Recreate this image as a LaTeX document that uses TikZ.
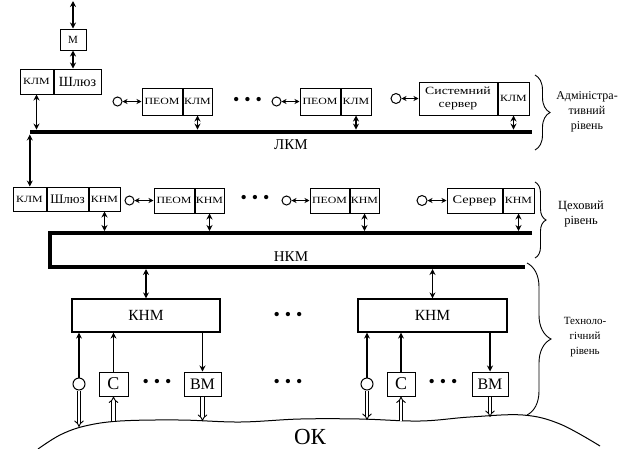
\documentclass[tikz,border=0pt]{standalone}
\usepackage{fontspec}
\setmainfont{Liberation Serif}
\newfontfamily\boxfont[FakeStretch=1.25]{Liberation Serif}
\usetikzlibrary{positioning,arrows.meta,decorations.pathreplacing}

\begin{document}
\begin{tikzpicture}[x=1pt, y=-1pt, cell/.style = {draw, line width=1pt, inner sep=0pt, minimum height=25pt, font=\boxfont\fontsize{9.5}{9.5}\selectfont}, bus/.style = {fill=black, inner sep=0pt, minimum height=4.5pt}, bi/.style = {line width=1.5pt, {Stealth[length=6pt,width=6pt]}-{Stealth[length=6pt,width=6pt]}}, bis/.style = {line width=1.3pt, {Stealth[length=5pt,width=5pt]}-{Stealth[length=5pt,width=5pt]}}, sig/.style = {line width=1.5pt, -{Stealth[length=6pt,width=6pt]}}, hollow/.style = {double, double distance=2.4pt, line width=0.9pt, -{Implies}}, op/.style = {draw, circle, line width=1pt, inner sep=0pt, minimum size=9pt}, dots/.style = {inner sep=0pt, font=\fontsize{18}{18}\selectfont}, lvl/.style = {align=center, font=\fontsize{12}{15}\selectfont}, brc/.style = {decorate, decoration={brace, amplitude=#1}, line width=0.9pt}]
\useasboundingbox (0,0) rectangle (628,448);
% administrative level
\node[cell, minimum width=26pt, minimum height=21pt, font=\fontsize{11}{11}\selectfont] (m) at (73,39.5) {М};
\coordinate (mtop) at (73,1);
\node[cell, minimum width=33pt] (klm1) at (36.5,81.5) {КЛМ};
\node[cell, minimum width=47pt, right=0pt of klm1, font=\fontsize{14}{14}\selectfont] (shl1) {Шлюз};
\draw[bi] (mtop) -- (m.north);
\draw[bi] (m.south) -- (m.south |- shl1.north);
\node[bus, minimum width=502pt] (lkm) at (281,132) {};
\node[font=\fontsize{15}{15}\selectfont] (lkmlab) at (291,145) {ЛКМ};
\draw[bi] (klm1.south) -- (klm1.south |- lkm.north);
\node[cell, minimum width=40pt, minimum height=27pt] (peom1) at (162,101.5) {ПЕОМ};
\node[cell, minimum width=29pt, minimum height=27pt, right=0pt of peom1] (klm2) {КЛМ};
\node[op, left=19pt of peom1] (op1) {};
\draw[bis] (op1) -- (peom1);
\draw[bi] (klm2.south) -- (klm2.south |- lkm.north);
\node[dots] (dots1) at (247.5,101) {\textbullet\hspace{5pt}\textbullet\hspace{5pt}\textbullet};
\node[cell, minimum width=40pt, minimum height=27pt] (peom2) at (320,101.5) {ПЕОМ};
\node[cell, minimum width=30pt, minimum height=27pt, right=0pt of peom2] (klm3) {КЛМ};
\node[op, left=18pt of peom2] (op2) {};
\draw[bis] (op2) -- (peom2);
\draw[bi] (klm3.south) -- (klm3.south |- lkm.north);
\node[cell, minimum width=78pt, minimum height=33pt, align=center, font=\boxfont\fontsize{11}{13}\selectfont] (srv1) at (458,98.5) {Системний\\сервер};
\node[cell, minimum width=31pt, minimum height=33pt, right=0pt of srv1] (klm4) {КЛМ};
\node[op, minimum size=10pt, left=17pt of srv1] (op3) {};
\draw[bis] (op3) -- (srv1);
\draw[bi] (klm4.south) -- (klm4.south |- lkm.north);
\draw[brc=15pt] (535,75) -- (535,150);
\node[lvl] (lvl1) at (587,112) {Адміністра-\\тивний\\рівень};
% shop level
\node[cell, minimum width=33pt, minimum height=24pt] (klm5) at (29.5,199) {КЛМ};
\node[cell, minimum width=41pt, minimum height=24pt, right=0pt of klm5, font=\fontsize{13}{13}\selectfont] (shl2) {Шлюз};
\node[cell, minimum width=31pt, minimum height=24pt, right=0pt of shl2] (knm1) {КНМ};
\draw[bi] (lkm.south west) -- (lkm.south west |- klm5.north);
\coordinate (nkmA) at (532,233);
\coordinate (nkmB) at (50,233);
\coordinate (nkmC) at (50,267);
\coordinate (nkmD) at (525,267);
\coordinate (nkmtop) at (50,231);
\coordinate (nkmbot) at (50,269);
\draw[line width=4.5pt] (nkmA) -- (nkmB) -- (nkmC) -- (nkmD);
\node[font=\fontsize{15}{15}\selectfont] (nkmlab) at (291,257) {НКМ};
\draw[bi] (knm1.south) -- (knm1.south |- nkmtop);
\node[cell, minimum width=40pt] (peom3) at (174,200.5) {ПЕОМ};
\node[cell, minimum width=29pt, right=0pt of peom3] (knm2) {КНМ};
\node[op, left=19pt of peom3] (op4) {};
\draw[bis] (op4) -- (peom3);
\draw[bi] (knm2.south) -- (knm2.south |- nkmtop);
\node[dots] (dots2) at (255,199) {\textbullet\hspace{5pt}\textbullet\hspace{5pt}\textbullet};
\node[cell, minimum width=39pt] (peom4) at (329.5,200.5) {ПЕОМ};
\node[cell, minimum width=29pt, right=0pt of peom4] (knm3) {КНМ};
\node[op, left=18pt of peom4] (op5) {};
\draw[bis] (op5) -- (peom4);
\draw[bi] (knm3.south) -- (knm3.south |- nkmtop);
\node[cell, minimum width=55pt, font=\boxfont\fontsize{11.5}{11.5}\selectfont] (srv2) at (474.5,200.5) {Сервер};
\node[cell, minimum width=31pt, right=0pt of srv2] (knm4) {КНМ};
\node[op, minimum size=10pt, left=19pt of srv2] (op6) {};
\draw[bis] (op6) -- (srv2);
\draw[bi] (knm4.south) -- (knm4.south |- nkmtop);
\draw[brc=11pt] (535,182) -- (535,258);
\node[lvl, font=\fontsize{12.5}{15}\selectfont] (lvl2) at (581,214) {Цеховий\\рівень};
% technological level
\node[cell, line width=1.2pt, minimum width=148pt, minimum height=33pt, font=\fontsize{15.5}{15.5}\selectfont] (knm5) at (146,315.5) {КНМ};
\node[cell, line width=1.2pt, minimum width=149pt, minimum height=33pt, font=\fontsize{15.5}{15.5}\selectfont] (knm6) at (432.5,315.5) {КНМ};
\draw[bi] (knm5.north |- nkmbot) -- (knm5.north);
\draw[bi] (knm6.north |- nkmbot) -- (knm6.north);
\node[dots] (dots3) at (288,316) {\textbullet\hspace{5pt}\textbullet\hspace{5pt}\textbullet};
\node[dots] (dots4) at (288,383) {\textbullet\hspace{5pt}\textbullet\hspace{5pt}\textbullet};
\node[op, minimum size=12pt] (sn1) at (79,384) {};
\node[cell, minimum width=29pt, minimum height=24pt, font=\fontsize{18}{18}\selectfont] (c1) at (113.5,384) {С};
\node[dots] (dots5) at (157,383) {\textbullet\hspace{5pt}\textbullet\hspace{5pt}\textbullet};
\node[cell, minimum width=37pt, minimum height=24pt, font=\fontsize{16}{16}\selectfont] (vm1) at (202.5,384) {ВМ};
\draw[sig] (sn1.north) -- (sn1.north |- knm5.south);
\draw[sig] (c1.north) -- (c1.north |- knm5.south);
\draw[sig] (vm1.north |- knm5.south) -- (vm1.north);
\node[op, minimum size=12pt] (sn2) at (367,384) {};
\node[cell, minimum width=28pt, minimum height=24pt, font=\fontsize{18}{18}\selectfont] (c2) at (401,384) {С};
\node[dots] (dots6) at (443,383) {\textbullet\hspace{5pt}\textbullet\hspace{5pt}\textbullet};
\node[cell, minimum width=36pt, minimum height=24pt, font=\fontsize{16}{16}\selectfont] (vm2) at (490,384) {ВМ};
\draw[sig] (sn2.north) -- (sn2.north |- knm6.south);
\draw[sig] (c2.north) -- (c2.north |- knm6.south);
\draw[sig] (vm2.north |- knm6.south) -- (vm2.north);
\draw[brc=24pt] (527,263) -- (527,415);
\node[lvl, font=\fontsize{11}{15}\selectfont] (lvl3) at (585,337) {Техноло-\\гічний\\рівень};
% controlled object
\draw[line width=1pt] plot[smooth, tension=0.6] coordinates {(38,449) (60,435) (85,426) (120,421) (180,420) (240,422) (300,419) (360,419) (420,421) (470,417) (523,415) (560,424) (600,446)};
\coordinate (g1) at (79,427);
\coordinate (g2) at (113.5,421);
\coordinate (g3) at (202.5,421);
\coordinate (g4) at (367,420);
\coordinate (g5) at (401,421);
\coordinate (g6) at (490,417);
\draw[hollow] (sn1.south) -- (g1);
\draw[hollow] (g2) -- (c1.south);
\draw[hollow] (vm1.south) -- (g3);
\draw[hollow] (sn2.south) -- (g4);
\draw[hollow] (g5) -- (c2.south);
\draw[hollow] (vm2.south) -- (g6);
\node[anchor=base, inner sep=1pt, font=\fontsize{23}{23}\selectfont] (ok) at (310,444) {ОК};
\end{tikzpicture}
\end{document}
